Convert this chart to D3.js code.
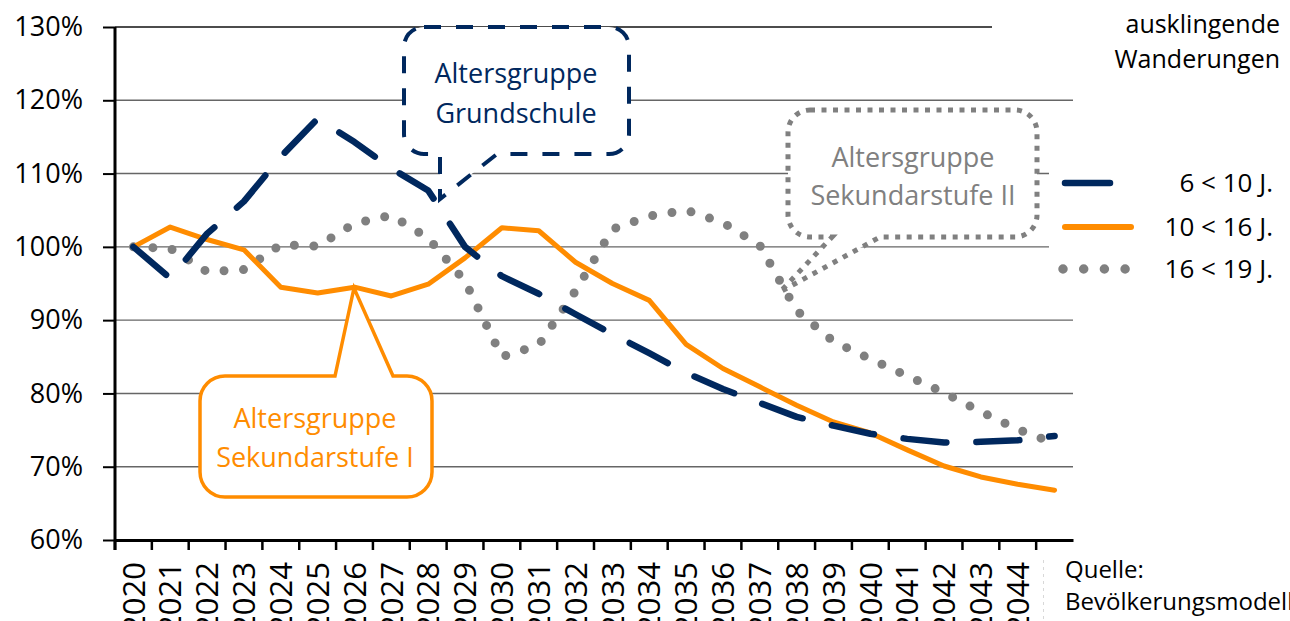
<!DOCTYPE html>
<html>
<head>
<meta charset="utf-8">
<script src="https://cdn.jsdelivr.net/npm/d3@7"></script>
<style>
  html, body { margin: 0; padding: 0; background: #fff; }
  svg { display: block; font-family: "Open Sans", sans-serif; }
</style>
</head>
<body>
<svg id="chart" width="1290" height="621"></svg>
<script>
// ---------- data ----------
const years = [2020,2021,2022,2023,2024,2025,2026,2027,2028,2029,2030,2031,2032,
               2033,2034,2035,2036,2037,2038,2039,2040,2041,2042,2043,2044,2045];
const yTicks = [0.6,0.7,0.8,0.9,1.0,1.1,1.2,1.3];
const seriesNames = ["6 < 10 J.", "10 < 16 J.", "16 < 19 J."];
const grundschule = [1.000,0.957,1.018,1.062,1.123,1.175,1.143,1.107,1.077,1.000,0.960,0.936,0.908,
                     0.881,0.855,0.828,0.806,0.787,0.768,0.756,0.745,0.738,0.733,0.734,0.736,0.742];
const sekI        = [1.000,1.027,1.010,0.996,0.945,0.937,0.945,0.933,0.949,0.985,1.026,1.022,0.979,
                     0.950,0.927,0.867,0.834,0.809,0.784,0.761,0.746,0.723,0.701,0.686,0.676,0.668];
const sekII       = [1.000,0.998,0.966,0.969,1.003,1.001,1.032,1.043,1.012,0.953,0.850,0.866,0.940,
                     1.024,1.042,1.050,1.033,1.002,0.913,0.871,0.847,0.824,0.801,0.775,0.751,0.732];
const calloutTexts = {
  grund: ["Altersgruppe", "Grundschule"],
  sek1: ["Altersgruppe", "Sekundarstufe I"],
  sek2: ["Altersgruppe", "Sekundarstufe II"]
};
const noteTop = ["ausklingende", "Wanderungen"];
const noteSource = ["Quelle:", "Bevölkerungsmodell"];

// ---------- setup ----------
const NAVY = "#00285e", ORANGE = "#ff8c00", GRAY = "#808080";
const svg = d3.select("#chart");
const x = d3.scaleBand().domain(years).range([115, 1073]).paddingInner(0).paddingOuter(0);
const cx = d => x(d) + x.bandwidth() / 2;
const y = d3.scaleLinear().domain([0.6, 1.3]).range([540, 27]);

// gridlines
svg.append("g").selectAll("line").data(yTicks.filter(v => v > 0.6)).join("line")
  .attr("x1", 115).attr("x2", 1073)
  .attr("y1", d => y(d)).attr("y2", d => y(d))
  .attr("stroke", d => d === 1.3 ? "#111" : "#666")
  .attr("stroke-width", d => d === 1.3 ? 1.6 : 1.4);

// ---------- lines ----------
const line = d3.line().x((d, i) => cx(years[i])).y(d => y(d));
svg.append("path").datum(sekII).attr("d", line)
  .attr("fill", "none").attr("stroke", GRAY).attr("stroke-width", 9)
  .attr("stroke-linecap", "round").attr("stroke-linejoin", "round")
  .attr("stroke-dasharray", "0,19.5");
svg.append("path").datum(sekI).attr("d", line)
  .attr("fill", "none").attr("stroke", ORANGE).attr("stroke-width", 5)
  .attr("stroke-linecap", "round").attr("stroke-linejoin", "round");
svg.append("path").datum(grundschule).attr("d", line)
  .attr("fill", "none").attr("stroke", NAVY).attr("stroke-width", 6.5)
  .attr("stroke-linecap", "round").attr("stroke-linejoin", "round")
  .attr("stroke-dasharray", "43,30");

// ---------- axes ----------
const yAxis = d3.axisLeft(y).tickValues(yTicks).tickFormat(d3.format(".0%"))
  .tickSizeInner(12).tickSizeOuter(0).tickPadding(20);
const gy = svg.append("g").attr("transform", "translate(115,0)").call(yAxis);
gy.select(".domain").attr("stroke", "#000").attr("stroke-width", 3).attr("d", "M0,550V27");
gy.selectAll(".tick line").attr("stroke", "#000").attr("stroke-width", 2);
gy.selectAll(".tick text").attr("font-size", 27).attr("fill", "#000")
  .attr("font-family", "Open Sans");

const xAxis = d3.axisBottom(x).tickSizeInner(0).tickSizeOuter(0).tickPadding(0);
const gx = svg.append("g").attr("transform", "translate(0,540)").call(xAxis);
gx.select(".domain").attr("stroke", "#000").attr("stroke-width", 3);
gx.selectAll(".tick text")
  .attr("transform", "rotate(-90)")
  .attr("x", -22).attr("y", 0).attr("dy", "0.36em")
  .attr("text-anchor", "end")
  .attr("font-size", 31).attr("fill", "#000").attr("font-family", "Open Sans");
// tick marks at band boundaries
svg.append("g").selectAll("line").data(years).join("line")
  .attr("x1", d => x(d)).attr("x2", d => x(d))
  .attr("y1", 540).attr("y2", 550)
  .attr("stroke", "#000").attr("stroke-width", 2.5);

// ---------- callouts ----------
function calloutBottom(x0, y0, x1, y1, r, bL, bR, tx, ty) {
  return `M${x0 + r},${y0} H${x1 - r} A${r},${r} 0 0 1 ${x1},${y0 + r} V${y1 - r}` +
         ` A${r},${r} 0 0 1 ${x1 - r},${y1} H${bR} L${tx},${ty} L${bL},${y1} H${x0 + r}` +
         ` A${r},${r} 0 0 1 ${x0},${y1 - r} V${y0 + r} A${r},${r} 0 0 1 ${x0 + r},${y0} Z`;
}
function calloutTop(x0, y0, x1, y1, r, bL, bR, tx, ty) {
  return `M${x0 + r},${y0} H${bL} L${tx},${ty} L${bR},${y0} H${x1 - r} A${r},${r} 0 0 1 ${x1},${y0 + r}` +
         ` V${y1 - r} A${r},${r} 0 0 1 ${x1 - r},${y1} H${x0 + r}` +
         ` A${r},${r} 0 0 1 ${x0},${y1 - r} V${y0 + r} A${r},${r} 0 0 1 ${x0 + r},${y0} Z`;
}
// Grundschule
svg.append("path").attr("d", calloutBottom(404, 27, 629, 154, 20, 440, 497, 440, 199))
  .attr("fill", "#fff").attr("stroke", NAVY).attr("stroke-width", 4)
  .attr("stroke-dasharray", "17,15");
svg.append("g").selectAll("text").data(calloutTexts.grund).join("text")
  .attr("x", 516).attr("y", (d, i) => 83 + i * 40)
  .attr("text-anchor", "middle").attr("font-size", 27).attr("fill", NAVY).text(d => d);
// Sekundarstufe II
svg.append("path").attr("d", calloutBottom(788, 110, 1037, 237, 22, 832, 880, 780, 292))
  .attr("fill", "#fff").attr("stroke", GRAY).attr("stroke-width", 5)
  .attr("stroke-dasharray", "5,6.5");
svg.append("g").selectAll("text").data(calloutTexts.sek2).join("text")
  .attr("x", 913).attr("y", (d, i) => 167 + i * 38)
  .attr("text-anchor", "middle").attr("font-size", 27).attr("fill", GRAY).text(d => d);
// Sekundarstufe I
svg.append("path").attr("d", calloutTop(200, 376, 432, 497, 25, 335, 393, 354, 288))
  .attr("fill", "#fff").attr("stroke", ORANGE).attr("stroke-width", 3.5)
  .attr("stroke-linejoin", "miter");
svg.append("g").selectAll("text").data(calloutTexts.sek1).join("text")
  .attr("x", 315).attr("y", (d, i) => 428 + i * 39)
  .attr("text-anchor", "middle").attr("font-size", 27).attr("fill", ORANGE).text(d => d);

// ---------- top-right note ----------
svg.append("rect").attr("x", 992).attr("y", 0).attr("width", 298).attr("height", 80).attr("fill", "#fff");
svg.append("g").selectAll("text").data(noteTop).join("text")
  .attr("x", 1280).attr("y", (d, i) => 33 + i * 35)
  .attr("text-anchor", "end").attr("font-size", 25).attr("fill", "#000").text(d => d);

// ---------- legend ----------
svg.append("rect").attr("x", 1049).attr("y", 155).attr("width", 241).attr("height", 135).attr("fill", "#fff");
const legendY = [183, 227, 269];
const lg = svg.append("g");
lg.append("line").attr("x1", 1065).attr("x2", 1131).attr("y1", legendY[0]).attr("y2", legendY[0])
  .attr("stroke", NAVY).attr("stroke-width", 6.5).attr("stroke-linecap", "round")
  .attr("stroke-dasharray", "45,30");
lg.append("line").attr("x1", 1065).attr("x2", 1131).attr("y1", legendY[1]).attr("y2", legendY[1])
  .attr("stroke", ORANGE).attr("stroke-width", 6).attr("stroke-linecap", "round");
lg.append("line").attr("x1", 1063).attr("x2", 1127).attr("y1", legendY[2]).attr("y2", legendY[2])
  .attr("stroke", GRAY).attr("stroke-width", 9.5).attr("stroke-linecap", "round")
  .attr("stroke-dasharray", "0,20.7");
lg.selectAll("text").data(seriesNames).join("text")
  .attr("x", 1273).attr("y", (d, i) => legendY[i]).attr("dy", "0.36em")
  .attr("text-anchor", "end").attr("font-size", 26).attr("fill", "#000")
  .attr("xml:space", "preserve").style("white-space", "pre").text(d => d);

// ---------- source note ----------
svg.append("rect").attr("x", 1040).attr("y", 554).attr("width", 250).attr("height", 67).attr("fill", "#fff");
svg.append("line").attr("x1", 1043.5).attr("x2", 1043.5).attr("y1", 560).attr("y2", 621)
  .attr("stroke", "#d8d8d8").attr("stroke-width", 1).attr("stroke-dasharray", "3,4");
svg.append("g").selectAll("text").data(noteSource).join("text")
  .attr("x", 1065).attr("y", (d, i) => 578 + i * 32)
  .attr("font-size", 24).attr("fill", "#000").text(d => d);
</script>
</body>
</html>
